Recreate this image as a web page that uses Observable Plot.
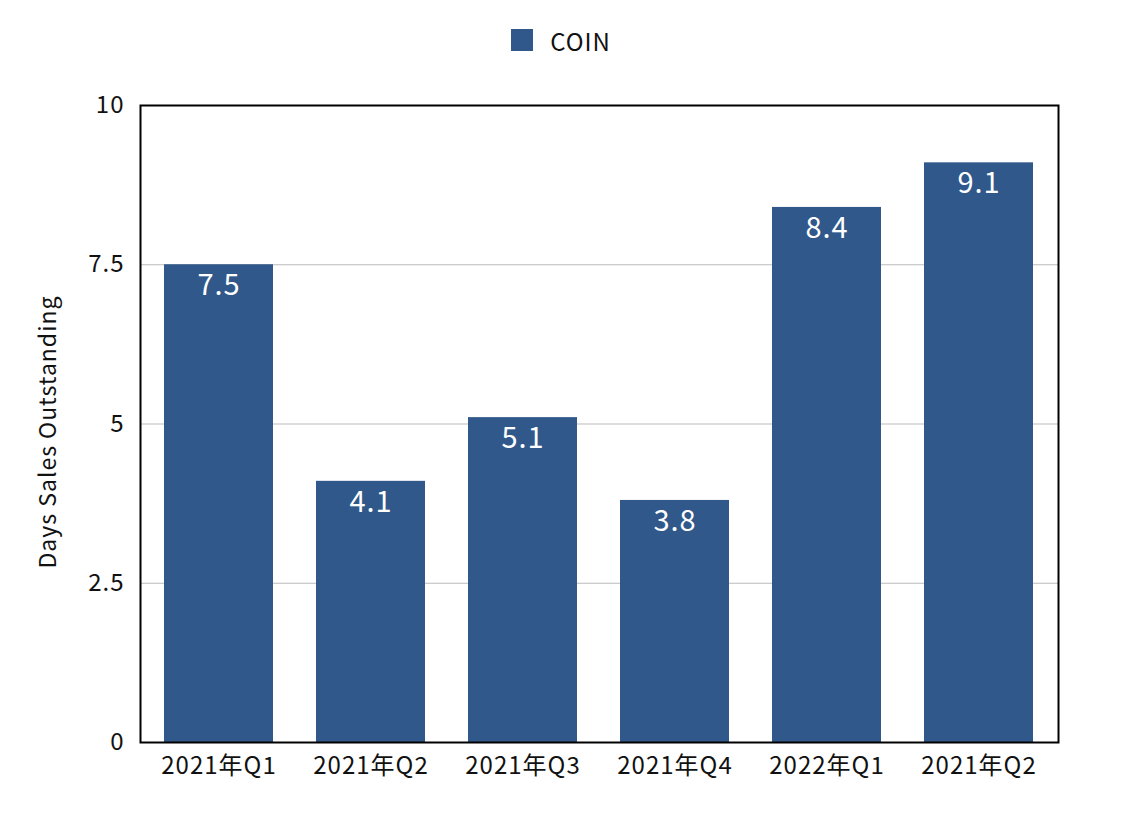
<!DOCTYPE html>
<html><head><meta charset="utf-8">
<script src="https://cdn.jsdelivr.net/npm/d3@7"></script>
<script src="https://cdn.jsdelivr.net/npm/@observablehq/plot@0.6"></script>
<style>
body{margin:0;background:#fff;font-family:"Noto Sans CJK JP","Noto Sans",sans-serif;}
#legend{height:80px;display:flex;align-items:center;justify-content:center;font-size:24px;letter-spacing:1px;color:#111;}
#legend .sw{width:22px;height:22px;background:#30588a;margin-right:17px;margin-left:-2px;}
svg text{letter-spacing:1px;}
</style></head><body>
<div id="legend"><div class="sw"></div><span>COIN</span></div>
<div id="chart"></div>
<script>
const categories = ["2021年Q1","2021年Q2","2021年Q3","2021年Q4","2022年Q1","2021年Q2"];
const values = [7.5, 4.1, 5.1, 3.8, 8.4, 9.1];
const yTicks = [0, 2.5, 5, 7.5, 10];
const seriesName = "COIN";
const color = "#30588a";

const data = categories.map((c, i) => ({key: i, label: c, value: values[i]}));

const chart = Plot.plot({
  width: 1124,
  height: 736,
  marginTop: 25,
  marginBottom: 74,
  marginLeft: 140,
  marginRight: 66,
  style: {fontFamily: '"Noto Sans CJK JP","Noto Sans",sans-serif', fontSize: "24px", color: "#111", background: "#fff"},
  x: {domain: data.map(d => d.key), paddingInner: 0.28, paddingOuter: 0.15, tickFormat: i => categories[i], tickSize: 0, label: null},
  y: {domain: [0, 10], ticks: yTicks, tickFormat: d => String(d), tickSize: 0, label: null, grid: false},
  marks: [
    Plot.ruleY(yTicks.filter(t => t > 0 && t < 10), {stroke: "#bbb", strokeWidth: 1}),
    Plot.barY(data, {x: "key", y: "value", fill: color}),
    Plot.text(data, {x: "key", y: "value", text: d => d.value.toFixed(1), fill: "#fff", dy: 21, fontSize: 29}),
    Plot.frame({stroke: "#000", strokeWidth: 2}),
    Plot.axisX({tickFormat: i => categories[i], tickSize: 0, tickPadding: 14, fontSize: 24}),
    Plot.axisY({ticks: yTicks, tickFormat: d => String(d), tickSize: 0, tickPadding: 16, fontSize: 24, label: null}),
    Plot.text(["Days Sales Outstanding"], {frameAnchor: "left", textAnchor: "middle", dx: -92, dy: 8, rotate: -90, fontSize: 23, fill: "#111"})
  ]
});
document.getElementById("chart").appendChild(chart);
</script>
</body></html>
